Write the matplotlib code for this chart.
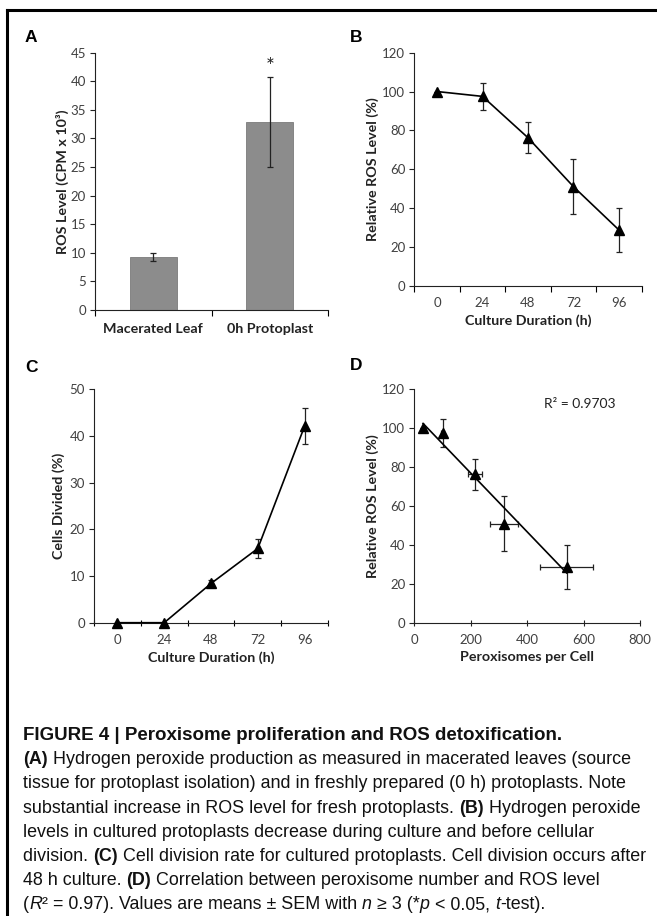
"""Peroxisome proliferation and ROS detoxification (Figure 4), four panels plus caption."""

import matplotlib

matplotlib.use("Agg")
import matplotlib.pyplot as plt
import numpy as np
from matplotlib.font_manager import FontProperties
from matplotlib.lines import Line2D

# ---- data -------------------------------------------------------------
a_categories = ["Macerated Leaf", "0h Protoplast"]
a_ros = [9.3, 32.85]
a_ros_err = [0.75, 7.9]

b_hours = ["0", "24", "48", "72", "96"]
b_rel_ros = [100, 97.5, 76.2, 51.0, 28.7]
b_rel_ros_err = [0, 7.0, 8.1, 14.1, 11.4]

c_hours = ["0", "24", "48", "72", "96"]
c_divided = [0, 0, 8.4, 15.9, 42.1]
c_divided_err = [0, 0, 0.7, 2.0, 3.9]

d_peroxisomes = [31, 101, 216, 319, 540]
d_peroxisomes_err = [0, 6, 24, 50, 94]
d_rel_ros = [100, 97.5, 76.2, 51.0, 28.7]
d_rel_ros_err = [0, 7.0, 8.1, 14.1, 11.4]
d_r2_label = "R² = 0.9703"

caption_lines = [
    [("FIGURE 4 | Peroxisome proliferation and ROS detoxification.", "bold", "normal")],
    [("(A)", "bold", "normal"),
     (" Hydrogen peroxide production as measured in macerated leaves (source", "normal", "normal")],
    [("tissue for protoplast isolation) and in freshly prepared (0 h) protoplasts. Note", "normal", "normal")],
    [("substantial increase in ROS level for fresh protoplasts. ", "normal", "normal"),
     ("(B)", "bold", "normal"), (" Hydrogen peroxide", "normal", "normal")],
    [("levels in cultured protoplasts decrease during culture and before cellular", "normal", "normal")],
    [("division. ", "normal", "normal"), ("(C)", "bold", "normal"),
     (" Cell division rate for cultured protoplasts. Cell division occurs after", "normal", "normal")],
    [("48 h culture. ", "normal", "normal"), ("(D)", "bold", "normal"),
     (" Correlation between peroxisome number and ROS level", "normal", "normal")],
    [("(", "normal", "normal"), ("R", "normal", "italic"), ("² = 0.97). Values are means ± SEM with ", "normal", "normal"),
     ("n", "normal", "italic"), (" ≥ 3 (*", "normal", "normal"), ("p", "normal", "italic"),
     (" < 0.05, ", "normal", "normal"), ("t", "normal", "italic"), ("-test).", "normal", "normal")],
]

# ---- layout helpers ---------------------------------------------------
W, H = 657, 916
CHART_FONT = ["Lato", "DejaVu Sans"]
CAPTION_FONT = ["Liberation Sans", "DejaVu Sans"]
TICK_COLOR = "#404040"
LABEL_COLOR = "#222222"
TICK_SIZE = 9.5
LABEL_SIZE = 10.3

plt.rcParams["font.family"] = CHART_FONT


def px_rect(left, top, right, bottom):
    return [left / W, 1 - bottom / H, (right - left) / W, (bottom - top) / H]


def style_axes(ax):
    for side in ("top", "right"):
        ax.spines[side].set_visible(False)
    for side in ("left", "bottom"):
        ax.spines[side].set_linewidth(0.8)
        ax.spines[side].set_color("#222222")
    ax.tick_params(axis="y", direction="out", length=3.5, width=0.8, colors="#222222",
                   labelcolor=TICK_COLOR, labelsize=TICK_SIZE, pad=3)
    ax.tick_params(axis="x", colors="#222222", labelcolor=TICK_COLOR, labelsize=TICK_SIZE)


def category_axis(ax, labels, tick_dir):
    pos = np.arange(len(labels))
    ax.set_xlim(-0.5, len(labels) - 0.5)
    ax.set_xticks(pos)
    ax.set_xticklabels(labels)
    ax.set_xticks(np.arange(len(labels) + 1) - 0.5, minor=True)
    ax.tick_params(axis="x", which="major", length=0, pad=8)
    ax.tick_params(axis="x", which="minor", direction=tick_dir, length=4, width=0.8)
    return pos


def line_panel(ax, x, y, yerr, xerr=None):
    ax.errorbar(x, y, yerr=yerr, xerr=xerr, fmt="none", ecolor="#222222",
                elinewidth=0.9, capsize=2.5, capthick=0.9, zorder=2)
    ax.plot(x, y, color="black", linewidth=1.2, marker="^", markersize=7.5,
            markerfacecolor="black", markeredgecolor="black", zorder=3, clip_on=False)


def axis_labels(ax, xlabel, ylabel, ylabel_x):
    if xlabel:
        ax.set_xlabel(xlabel, fontsize=LABEL_SIZE, fontweight="bold", color=LABEL_COLOR, labelpad=4)
    ax.set_ylabel(ylabel, fontsize=LABEL_SIZE, fontweight="bold", color=LABEL_COLOR)
    ax.yaxis.set_label_coords(ylabel_x, 0.5)


fig = plt.figure(figsize=(W / 100, H / 100), dpi=100)

# ---- panel A ----------------------------------------------------------
ax_a = fig.add_axes(px_rect(95, 52.7, 328, 310))
style_axes(ax_a)
pos_a = category_axis(ax_a, a_categories, "out")
ax_a.bar(pos_a, a_ros, width=0.4, color="#8c8c8c", edgecolor="#7a7a7a", linewidth=0.6, zorder=1)
ax_a.errorbar(pos_a, a_ros, yerr=a_ros_err, fmt="none", ecolor="#222222",
              elinewidth=0.9, capsize=2.5, capthick=0.9, zorder=2)
ax_a.set_ylim(0, 45)
ax_a.set_yticks(np.arange(0, 46, 5))
ax_a.tick_params(axis="x", which="major", pad=9.5, labelsize=LABEL_SIZE, labelcolor=LABEL_COLOR)
for lbl in ax_a.get_xticklabels():
    lbl.set_fontweight("bold")
ax_a.text(pos_a[1], a_ros[1] + a_ros_err[1], "*", ha="center", va="bottom",
          fontsize=15, color=LABEL_COLOR)
axis_labels(ax_a, None, "ROS Level (CPM x 10³)", -0.11)

# ---- panel B ----------------------------------------------------------
ax_b = fig.add_axes(px_rect(414.3, 52.7, 641.7, 285.7))
style_axes(ax_b)
pos_b = category_axis(ax_b, b_hours, "out")
line_panel(ax_b, pos_b, b_rel_ros, b_rel_ros_err)
ax_b.set_ylim(0, 120)
ax_b.set_yticks(np.arange(0, 121, 20))
axis_labels(ax_b, "Culture Duration (h)", "Relative ROS Level (%)", -0.155)

# ---- panel C ----------------------------------------------------------
ax_c = fig.add_axes(px_rect(94, 389.3, 328, 622.7))
style_axes(ax_c)
pos_c = category_axis(ax_c, c_hours, "inout")
line_panel(ax_c, pos_c, c_divided, c_divided_err)
ax_c.set_ylim(0, 50)
ax_c.set_yticks(np.arange(0, 51, 10))
axis_labels(ax_c, "Culture Duration (h)", "Cells Divided (%)", -0.125)

# ---- panel D ----------------------------------------------------------
ax_d = fig.add_axes(px_rect(414.3, 389.3, 640, 622.7))
style_axes(ax_d)
ax_d.errorbar(d_peroxisomes, d_rel_ros, yerr=d_rel_ros_err, xerr=d_peroxisomes_err, fmt="none",
              ecolor="#222222", elinewidth=0.9, capsize=2.5, capthick=0.9, zorder=2)
ax_d.plot(d_peroxisomes, d_rel_ros, linestyle="none", marker="^", markersize=7.5,
          color="black", zorder=3, clip_on=False)
slope, intercept = np.polyfit(d_peroxisomes, d_rel_ros, 1)
fit_x = np.array([min(d_peroxisomes), max(d_peroxisomes)])
ax_d.plot(fit_x, slope * fit_x + intercept, color="black", linewidth=1.2, zorder=3)
ax_d.set_xlim(0, 800)
ax_d.set_ylim(0, 120)
ax_d.set_xticks(np.arange(0, 801, 200))
ax_d.set_yticks(np.arange(0, 121, 20))
ax_d.tick_params(axis="x", direction="inout", length=4, width=0.8, pad=6)
ax_d.text(0.734, 0.937, d_r2_label, transform=ax_d.transAxes, ha="center", va="center",
          fontsize=10, color=LABEL_COLOR)
axis_labels(ax_d, "Peroxisomes per Cell", "Relative ROS Level (%)", -0.155)

# ---- panel letters ----------------------------------------------------
for letter, (x, y) in {"A": (25, 37), "B": (350, 37), "C": (25, 367), "D": (350, 366)}.items():
    fig.text(x / W, 1 - y / H, letter, fontsize=12.5, fontweight="bold", va="center",
             family=["Liberation Sans", "DejaVu Sans"])

# ---- frame (top and left edges of the figure box) ---------------------
fig.add_artist(Line2D([6.5 / W, 1], [1 - 9.5 / H, 1 - 9.5 / H], color="black", linewidth=2.2,
                      transform=fig.transFigure))
fig.add_artist(Line2D([6.5 / W, 6.5 / W], [1 - 9.5 / H, 0], color="black", linewidth=2.2,
                      transform=fig.transFigure))

# ---- caption ----------------------------------------------------------
renderer = fig.canvas.get_renderer()


def seg_width(text, weight, style, size):
    prop = FontProperties(family=CAPTION_FONT, weight=weight, style=style, size=size)
    w_full, _, _ = renderer.get_text_width_height_descent("|" + text + "|", prop, ismath=False)
    w_bars, _, _ = renderer.get_text_width_height_descent("||", prop, ismath=False)
    return w_full - w_bars


baseline = 740
for i, segments in enumerate(caption_lines):
    size = 13.5 if i == 0 else 12.85
    x = 23
    y = baseline + i * 24.2
    for text, weight, style in segments:
        fig.text(x / W, 1 - y / H, text, fontsize=size, fontweight=weight, fontstyle=style,
                 family=CAPTION_FONT, va="baseline", ha="left", color="#111111")
        x += seg_width(text, weight, style, size)

fig.savefig("out.png", dpi=100)
